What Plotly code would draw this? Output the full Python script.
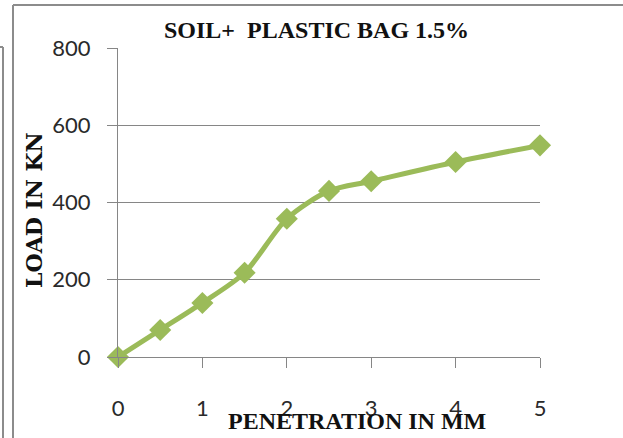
import plotly.graph_objects as go

# Penetration test: soil mixed with 1.5% plastic bag
penetration_mm = [0, 0.5, 1, 1.5, 2, 2.5, 3, 4, 5]
load_kn = [0, 70, 140, 218, 358, 430, 455, 505, 548]

x_ticks = [0, 1, 2, 3, 4, 5]
y_ticks = [0, 200, 400, 600, 800]

title_text = "SOIL+  PLASTIC BAG 1.5%"
x_title = "PENETRATION IN MM"
y_title = "LOAD IN KN"

GREEN = "#9BBB59"
GRID = "#868686"
FRAME = "#8c8c8c"

W, H = 623, 438
L, R, T, B = 118, 83, 48, 81
pw, ph = W - L - R, H - T - B


def px(x):
    return (x - L) / pw


def py(y):
    return (H - B - y) / ph


fig = go.Figure()
fig.add_trace(go.Scatter(
    x=penetration_mm,
    y=load_kn,
    mode="lines+markers",
    line=dict(color=GREEN, width=5, shape="spline", smoothing=0.8),
    marker=dict(symbol="diamond", size=17, color=GREEN),
    hoverinfo="skip",
    cliponaxis=False,
))

tick_font = dict(family="Lato, 'Open Sans', sans-serif", size=22, color="#2a2a2a")
serif = "'Liberation Serif', 'DejaVu Serif', serif"

fig.update_layout(
    width=W,
    height=H,
    margin=dict(l=L, r=R, t=T, b=B, pad=0),
    paper_bgcolor="white",
    plot_bgcolor="white",
    showlegend=False,
    xaxis=dict(
        range=[0, 5],
        tickvals=x_ticks,
        ticktext=[str(v) for v in x_ticks],
        ticks="outside",
        ticklen=10,
        tickcolor=GRID,
        tickfont=tick_font,
        showgrid=False,
        zeroline=False,
        showline=True,
        linecolor=GRID,
        linewidth=1,
        ticklabelstandoff=22,
        fixedrange=True,
    ),
    yaxis=dict(
        range=[0, 800],
        tickvals=y_ticks,
        ticktext=[str(v) for v in y_ticks],
        ticks="outside",
        ticklen=10,
        tickcolor=GRID,
        tickfont=tick_font,
        showgrid=True,
        gridcolor=GRID,
        gridwidth=1,
        zeroline=False,
        showline=True,
        linecolor=GRID,
        linewidth=1,
        ticklabelstandoff=12,
        fixedrange=True,
    ),
    annotations=[
        dict(text="<b>" + title_text + "</b>", x=px(316), y=py(30),
             xref="paper", yref="paper", showarrow=False,
             xanchor="center", yanchor="middle",
             font=dict(size=24, family=serif, color="#111")),
        dict(text="<b>" + x_title + "</b>", x=px(357), y=py(421),
             xref="paper", yref="paper", showarrow=False,
             xanchor="center", yanchor="middle",
             font=dict(size=24, family=serif, color="#111")),
        dict(text="<b>" + y_title + "</b>", x=px(34), y=py(210),
             xref="paper", yref="paper", showarrow=False, textangle=-90,
             xanchor="center", yanchor="middle",
             font=dict(size=22, family="'DejaVu Serif', serif", color="#111")),
    ],
    shapes=[
        # outer frame, top and left edges
        dict(type="line", xref="paper", yref="paper",
             x0=px(13), x1=px(W + 5), y0=py(5), y1=py(5),
             line=dict(color=FRAME, width=2)),
        dict(type="line", xref="paper", yref="paper",
             x0=px(13), x1=px(13), y0=py(5), y1=py(H + 5),
             line=dict(color=FRAME, width=2)),
        # neighbouring frame edge at the far left
        dict(type="line", xref="paper", yref="paper",
             x0=px(-5), x1=px(3), y0=py(47), y1=py(47),
             line=dict(color=FRAME, width=2)),
        dict(type="line", xref="paper", yref="paper",
             x0=px(3), x1=px(3), y0=py(47), y1=py(H + 5),
             line=dict(color=FRAME, width=2)),
    ],
)

fig.write_html("out.html", config={"displayModeBar": False})
